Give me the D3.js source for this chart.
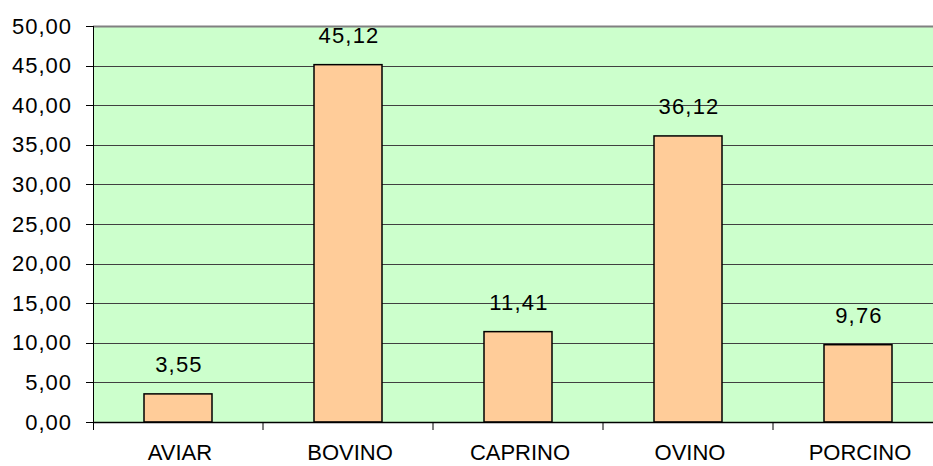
<!DOCTYPE html>
<html>
<head>
<meta charset="utf-8">
<script src="https://cdn.jsdelivr.net/npm/d3@7"></script>
<style>
  body { margin: 0; background: #fff; }
  svg text { font-family: "Liberation Sans", Arial, sans-serif; fill: #000; }
</style>
</head>
<body>
<div id="canvas"></div>
<script>
// datos
const categories = ["AVIAR", "BOVINO", "CAPRINO", "OVINO", "PORCINO"];
const values = [3.55, 45.12, 11.41, 36.12, 9.76];
const yTicks = [0, 5, 10, 15, 20, 25, 30, 35, 40, 45, 50];

const width = 933;
const height = 466;
const margin = { top: 26, left: 93, bottom: 44, right: -10 };
const iwidth = width - margin.left - margin.right;
const iheight = height - margin.top - margin.bottom;

const fmt = v => d3.format(".2f")(v).replace(".", ",");

const svg = d3.select("#canvas").append("svg")
    .attr("width", width)
    .attr("height", height);

const g = svg.append("g")
    .attr("transform", `translate(${margin.left}, ${margin.top})`);

const y = d3.scaleLinear()
    .domain([0, 50])
    .range([iheight, 0]);

const x = d3.scaleBand()
    .domain(categories)
    .range([0, iwidth])
    .paddingInner(0.6)
    .paddingOuter(0.3);

// fondo
g.append("rect")
    .attr("x", 0).attr("y", 0)
    .attr("width", iwidth).attr("height", iheight)
    .style("fill", "#ccffcc");

// lineas de division
g.selectAll(".grid").data(yTicks.filter(d => d > 0 && d < 50))
  .enter().append("line")
    .attr("x1", 0).attr("x2", iwidth)
    .attr("y1", d => Math.round(y(d)) + 0.5)
    .attr("y2", d => Math.round(y(d)) + 0.5)
    .style("stroke", "#404040")
    .style("stroke-width", 1);

g.append("line")
    .attr("x1", 0).attr("x2", iwidth)
    .attr("y1", 0.5).attr("y2", 0.5)
    .style("stroke", "#808080")
    .style("stroke-width", 2);

// barras
g.selectAll(".bar").data(values)
  .enter().append("rect")
    .attr("class", "bar")
    .attr("x", (d, i) => x(categories[i]))
    .attr("y", d => y(d))
    .attr("width", x.bandwidth())
    .attr("height", d => iheight - y(d))
    .style("fill", "#ffcc99")
    .style("stroke", "#000")
    .style("stroke-width", 1.5);

// etiquetas de datos
g.selectAll(".lbl").data(values)
  .enter().append("text")
    .attr("x", (d, i) => x(categories[i]) + x.bandwidth() / 2 + 1)
    .attr("y", d => y(d) - 29)
    .attr("text-anchor", "middle")
    .attr("dominant-baseline", "central")
    .style("font-size", "22px")
    .style("letter-spacing", "1.2px")
    .text(fmt);

// eje y
const yAxis = g.append("g");
yAxis.append("line")
    .attr("x1", 0.5).attr("x2", 0.5)
    .attr("y1", 0).attr("y2", iheight + 8)
    .style("stroke", "#000");
yAxis.selectAll(".tick").data(yTicks)
  .enter().append("line")
    .attr("x1", -7).attr("x2", 0)
    .attr("y1", d => Math.round(y(d)) + 0.5)
    .attr("y2", d => Math.round(y(d)) + 0.5)
    .style("stroke", "#000");
yAxis.selectAll(".ylbl").data(yTicks)
  .enter().append("text")
    .attr("x", -21)
    .attr("y", d => y(d))
    .attr("text-anchor", "end")
    .attr("dominant-baseline", "central")
    .style("font-size", "22px")
    .style("letter-spacing", "1px")
    .text(fmt);

// eje x
g.append("line")
    .attr("x1", 0).attr("x2", iwidth)
    .attr("y1", iheight + 0.5).attr("y2", iheight + 0.5)
    .style("stroke", "#000")
    .style("stroke-width", 1.5);
const step = x.step();
g.selectAll(".xtick").data(categories)
  .enter().append("line")
    .attr("x1", (d, i) => x(d) + x.bandwidth() / 2 + step / 2)
    .attr("x2", (d, i) => x(d) + x.bandwidth() / 2 + step / 2)
    .attr("y1", iheight).attr("y2", iheight + 8)
    .style("stroke", "#000");
g.selectAll(".xlbl").data(categories)
  .enter().append("text")
    .attr("x", d => x(d) + x.bandwidth() / 2 + 2)
    .attr("y", iheight + 38)
    .attr("text-anchor", "middle")
    .style("font-size", "22px")
    .text(d => d);
</script>
</body>
</html>
